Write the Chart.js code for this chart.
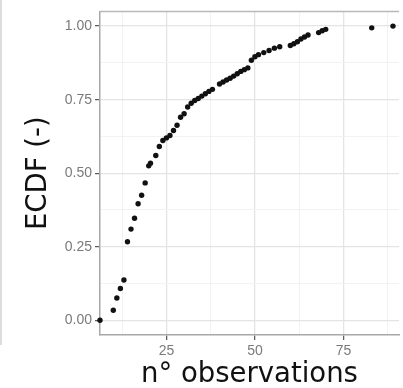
<!DOCTYPE html>
<html>
<head>
<meta charset="utf-8">
<script src="https://cdn.jsdelivr.net/npm/chart.js@4"></script>
<style>
    html, body { margin: 0; padding: 0; background: #fff; overflow: hidden; }
    #wrap { position: relative; width: 403px; height: 388px; }
    #edge { position: absolute; left: 0; top: 0; width: 2px; height: 345px; background: #dcdcdc; }
</style>
</head>
<body>
<div id="wrap">
    <div id="edge"></div>
    <canvas id="ecdfChart" width="403" height="388"></canvas>
</div>
<script>
// === ДАНІ ===
// number of observations (x) and the ECDF value (y);
// the first point is the ECDF padding at the left edge of the panel
const nObservations = [
    6.24, 10, 11, 12, 13, 14, 15, 16, 17, 18, 19, 20, 20.5, 22, 23,
    24, 25, 26, 27, 28, 29, 30, 31, 32, 33, 34, 35, 36, 37, 38,
    40, 41, 42, 43, 44, 45, 46, 47, 48, 49, 50, 51, 52.5, 54, 55.5,
    57, 60, 61, 62, 63, 64, 65, 68, 69, 70, 83, 89
];
const ecdfValues = [
    0.000, 0.034, 0.076, 0.108, 0.137, 0.267, 0.310, 0.347, 0.396, 0.425, 0.467, 0.525, 0.534, 0.560, 0.591,
    0.611, 0.620, 0.628, 0.645, 0.663, 0.690, 0.702, 0.725, 0.738, 0.747, 0.754, 0.762, 0.770, 0.778, 0.785,
    0.803, 0.810, 0.817, 0.823, 0.830, 0.838, 0.846, 0.852, 0.858, 0.884, 0.896, 0.903, 0.910, 0.917, 0.925,
    0.930, 0.934, 0.940, 0.947, 0.956, 0.963, 0.970, 0.978, 0.984, 0.989, 0.994, 1.000
];

const xLabels = [25, 50, 75];
const xGridLines = [12.5, 25, 37.5, 50, 62.5, 75, 87.5];
const yLabels = [0, 0.25, 0.5, 0.75, 1];
const yGridLines = [0, 0.125, 0.25, 0.375, 0.5, 0.625, 0.75, 0.875, 1];

const X_MIN = 6.24, X_MAX = 90.7;
const Y_MIN = -0.05, Y_MAX = 1.05;


// === СТИЛІ ===
const isMajor = (v, list) => list.some(t => Math.abs(t - v) < 1e-9);
const gridColor = list => ctx => isMajor(ctx.tick.value, list) ? "#e4e4e4" : "#f2f2f2";
const gridWidth = list => ctx => isMajor(ctx.tick.value, list) ? 1.3 : 1;
const tickColor = list => ctx => isMajor(ctx.tick.value, list) ? "#555" : "rgba(0,0,0,0)";
const tickFont = { family: "'Liberation Sans', Arial, sans-serif", size: 14 };
const titleFont = { family: "'DejaVu Sans', sans-serif", size: 27.5 };

// top edge of the panel (ggplot theme_bw border)
const panelTop = {
    id: "panelTop",
    beforeDatasetsDraw(chart) {
        const { ctx, chartArea: a } = chart;
        ctx.save();
        ctx.strokeStyle = "#b8b8b8";
        ctx.lineWidth = 1.5;
        ctx.beginPath();
        ctx.moveTo(a.left, a.top);
        ctx.lineTo(a.right, a.top);
        ctx.stroke();
        ctx.restore();
    }
};


// === ГРАФІК ===
new Chart(document.getElementById("ecdfChart"), {
    type: "scatter",
    data: {
        datasets: [{
            data: nObservations.map((x, i) => ({ x: x, y: ecdfValues[i] })),
            backgroundColor: "#111",
            borderWidth: 0,
            pointRadius: 2.7,
            clip: 4
        }]
    },
    options: {
        responsive: false,
        animation: false,
        layout: { padding: { top: 7, right: 0, bottom: 0, left: 0 } },
        plugins: { legend: { display: false }, tooltip: { enabled: false } },
        scales: {
            x: {
                type: "linear",
                min: X_MIN,
                max: X_MAX,
                afterBuildTicks: s => { s.ticks = xGridLines.map(v => ({ value: v })); },
                afterFit: s => { s.height = 53; },
                ticks: {
                    autoSkip: false,
                    maxRotation: 0,
                    padding: 3,
                    color: "#7a7a7a",
                    font: tickFont,
                    callback: v => isMajor(v, xLabels) ? String(v) : ""
                },
                grid: {
                    color: gridColor(xLabels),
                    lineWidth: gridWidth(xLabels),
                    tickLength: 5,
                    tickColor: tickColor(xLabels),
                    tickWidth: 1.2
                },
                border: { color: "#a8a8a8", width: 1.5 },
                title: {
                    display: true,
                    text: "n° observations",
                    color: "#111",
                    font: titleFont,
                    padding: { top: 0, bottom: -3 }
                }
            },
            y: {
                type: "linear",
                min: Y_MIN,
                max: Y_MAX,
                afterBuildTicks: s => { s.ticks = yGridLines.map(v => ({ value: v })); },
                afterFit: s => { s.width = 100; },
                ticks: {
                    autoSkip: false,
                    padding: 3,
                    color: "#7a7a7a",
                    font: tickFont,
                    callback: v => isMajor(v, yLabels) ? v.toFixed(2) : ""
                },
                grid: {
                    color: gridColor(yLabels),
                    lineWidth: gridWidth(yLabels),
                    tickLength: 5,
                    tickColor: tickColor(yLabels),
                    tickWidth: 1.2
                },
                border: { color: "#a8a8a8", width: 1.5 },
                title: {
                    display: true,
                    text: "ECDF (-)",
                    color: "#111",
                    font: titleFont,
                    padding: { top: 22, bottom: 0 }
                }
            }
        }
    },
    plugins: [panelTop]
});
</script>
</body>
</html>
